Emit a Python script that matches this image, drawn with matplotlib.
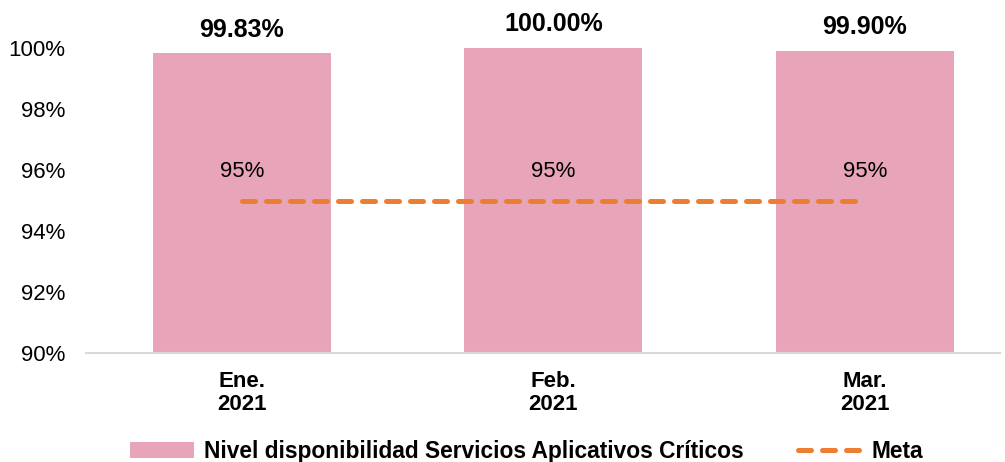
import numpy as np
import matplotlib.pyplot as plt
from matplotlib.ticker import FuncFormatter

plt.rcParams['font.family'] = ['Liberation Sans', 'DejaVu Sans']

# data
months = ["Ene.\n2021", "Feb.\n2021", "Mar.\n2021"]
disponibilidad = [99.83, 100.00, 99.90]
meta = [95, 95, 95]

bar_color = "#E8A4B8"
meta_color = "#ED7D31"

fig = plt.figure(figsize=(10.05, 4.62), dpi=100)
ax = fig.add_axes([86 / 1005, 109 / 462, 914 / 1005, 305 / 462])

x = np.arange(len(months))
bars = ax.bar(x, disponibilidad, width=0.57, color=bar_color,
              label="Nivel disponibilidad Servicios Aplicativos Críticos", zorder=2)
line, = ax.plot(x, meta, color=meta_color, linewidth=3.6, linestyle=(0, (2.6, 2.2)),
                dash_capstyle="round", label="Meta", zorder=3)

for xi, v in zip(x, disponibilidad):
    ax.text(xi, v + 0.38, f"{v:.2f}%", ha="center", va="bottom",
            fontsize=18, fontweight="bold", clip_on=False)
for xi, v in zip(x, meta):
    ax.text(xi, v + 0.6, f"{v}%", ha="center", va="bottom", fontsize=16, zorder=4)

ax.set_ylim(90, 100)
ax.set_xlim(-0.5, 2.434)
ax.set_yticks(np.arange(90, 101, 2))
ax.yaxis.set_major_formatter(FuncFormatter(lambda v, p: f"{v:.0f}%"))
ax.set_xticks(x)
ax.set_xticklabels(months, fontsize=16, fontweight="bold", linespacing=1.1)
ax.tick_params(axis="y", labelsize=16, length=0, pad=15)
ax.tick_params(axis="x", length=0, pad=13)

for s in ["top", "right", "left"]:
    ax.spines[s].set_visible(False)
ax.spines["bottom"].set_color("#D9D9D9")
ax.spines["bottom"].set_linewidth(1.5)

leg = ax.legend([bars, line], [bars.get_label(), "Meta"],
                loc="center", bbox_to_anchor=(0.482, -0.324), ncol=2, frameon=False,
                prop={"size": 16.4, "weight": "bold"},
                handlelength=2.85, columnspacing=2.4, handletextpad=0.4)

fig.savefig("out.png", dpi=100)
